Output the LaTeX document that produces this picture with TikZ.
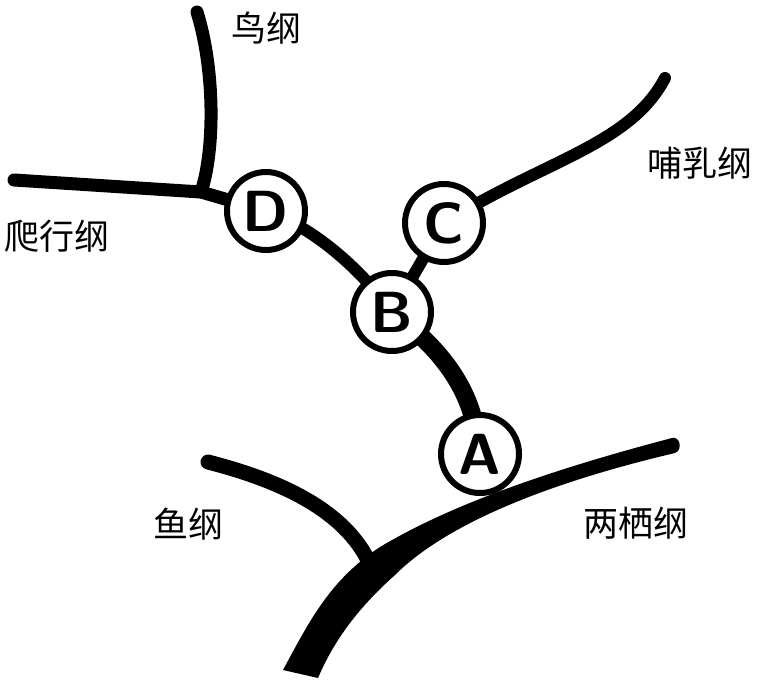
\documentclass[tikz,border=0pt]{standalone}
\usepackage{fontspec}
\newfontfamily\cjk{Noto Sans CJK SC}
\usetikzlibrary{backgrounds}
\tikzset{
  cladenode/.style={
    circle, draw, fill=white, line width=3pt, inner sep=0pt,
    minimum size=39pt, font=\sffamily\bfseries\fontsize{29}{29}\selectfont
  },
  branch/.style={
    line width=#1, line cap=round, line join=round
  },
  classlabel/.style={
    font=\cjk\fontsize{17.5}{17.5}\selectfont, inner sep=0pt
  },
}
\begin{document}
\begin{tikzpicture}[x=0.5pt, y=-0.5pt]
  \useasboundingbox (0,0) rectangle (758,684);

  % Ancestor circles
  \node[cladenode] (A) at (480,454) {A};
  \node[cladenode] (B) at (392,312) {B};
  \node[cladenode] (C) at (444,223) {C};
  \node[cladenode] (D) at (266,211) {D};

  % Branch ends
  \coordinate (birdtip) at (197,12);
  \coordinate (birdjoin) at (201,192);
  \coordinate (reptiletip) at (14,180);
  \coordinate (mammaltip) at (665,78);
  \coordinate (fishtip) at (208,462);
  \coordinate (fishjoin) at (368,560);

  % Class names
  \node[classlabel] (bird) at (266,28) {鸟纲};
  \node[classlabel] (reptile) at (57,236) {爬行纲};
  \node[classlabel] (mammal) at (700,163) {哺乳纲};
  \node[classlabel] (fish) at (188,524) {鱼纲};
  \node[classlabel] (amphibian) at (636,523) {两栖纲};

  \begin{scope}[on background layer]
    % Main trunk, tapering to the right
    \fill (283,670) .. controls (310,620) and (330,580) .. (380,547)
      .. controls (450,505) and (550,470) .. (672,438)
      .. controls (680,436) and (683,450) .. (675,453)
      .. controls (560,480) and (450,520) .. (395,575)
      .. controls (350,615) and (330,650) .. (318,678) -- cycle;
    \draw[branch=7.5pt] (fishtip) .. controls (270,478) and (340,505) .. (fishjoin);

    % Inner branches
    \draw[branch=9pt] (A.center) .. controls (475,420) and (470,370) .. (B.center);
    \draw[branch=6pt] (D.center) .. controls (300,222) and (350,255) .. (B.center);
    \draw[branch=6pt] (B.center) -- (C.center);
    \draw[branch=6pt] (C.center) .. controls (545,160) and (630,145) .. (mammaltip);
    \draw[branch=6.5pt] (D.center) -- (birdjoin) -- (reptiletip);
    \draw[branch=6.5pt] (birdjoin) .. controls (215,150) and (215,70) .. (birdtip);
  \end{scope}
\end{tikzpicture}
\end{document}
